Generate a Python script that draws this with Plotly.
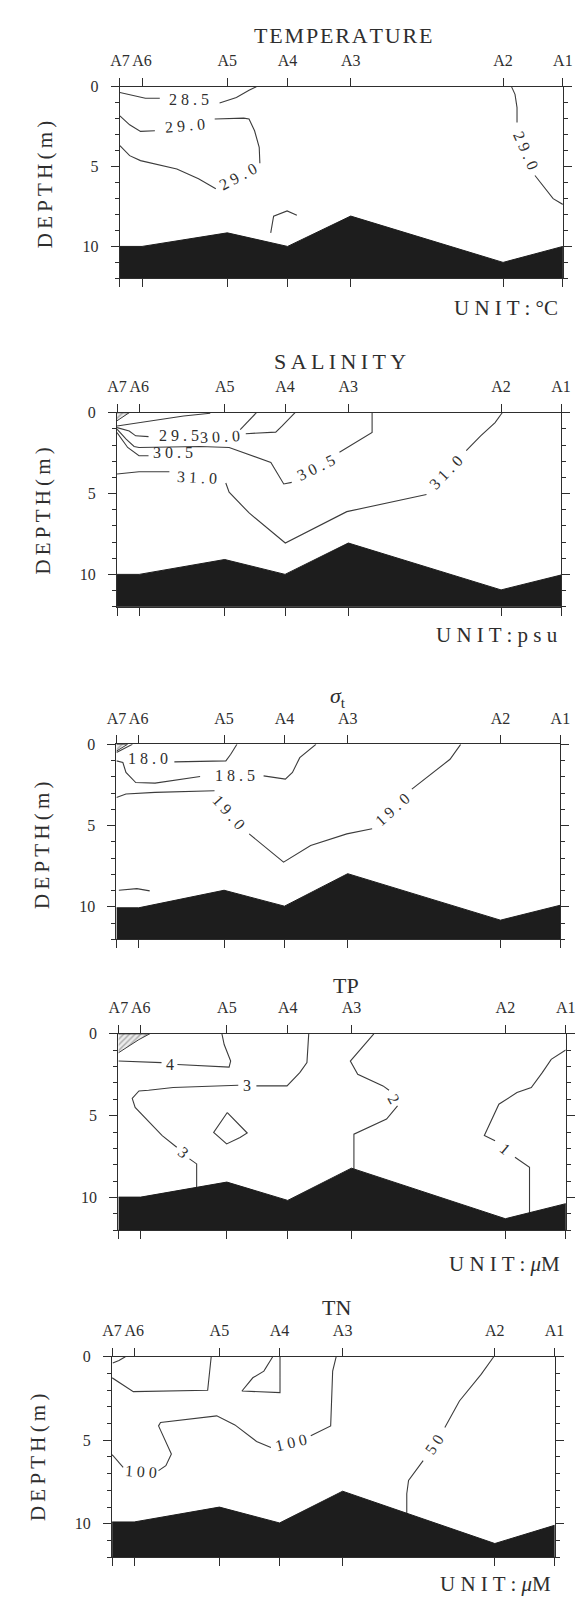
import plotly.graph_objects as go

# ---------------------------------------------------------------- data
STATIONS = ["A7", "A6", "A5", "A4", "A3", "A2", "A1"]
STATION_KM = [0.0, 1.0, 4.85, 7.57, 10.42, 17.3, 20.0]
DEPTH_TICKS = [0, 5, 10]
MAX_DEPTH = 12

# sea-bed depth (m) under each station, per section
BATHY_TEMP = [10.0, 10.0, 9.15, 10.0, 8.1, 11.0, 10.0]
BATHY_SAL = [10.0, 10.0, 9.08, 10.0, 8.06, 10.96, 10.04]
BATHY_SIG = [10.06, 10.06, 8.98, 9.96, 7.96, 10.82, 9.9]
BATHY_TP = [9.98, 9.98, 9.06, 10.18, 8.21, 11.3, 10.38]
BATHY_TN = [9.89, 9.89, 9.0, 9.95, 8.05, 11.18, 10.09]

# contour polylines: (distance km, depth m); None = gap for a label
TEMP_28_5 = [(0, 0.37), (0.6, 0.58), (1.15, 0.73), (1.8, 0.73), None,
             (4.5, 1.02), (5.26, 0.68), (5.83, 0.23), (6.16, 0.0)]
TEMP_29_0_A = [(0, 3.69), (0.44, 4.32), (0.93, 4.63), (2.57, 5.15), (3.55, 5.77),
               (4.33, 6.39), None, (6.32, 4.79), (6.29, 3.8), (6.08, 2.76),
               (5.83, 2.03), (5.59, 1.97), (4.28, 2.03), None, (1.58, 2.76),
               (0.93, 2.8), (0.44, 2.39), (0, 1.83)]
TEMP_29_0_B = [(17.68, 0.0), (17.84, 0.48), (17.93, 1.31), (17.93, 2.24), None,
               (18.74, 5.56), (19.15, 6.29), (19.56, 7.01), (20.0, 7.37)]
TEMP_FRAG = [(6.81, 9.15), (6.94, 8.11), (7.55, 7.78), (7.99, 8.05)]
TEMP_LABELS = [(3.14, 0.8, "28.5"), (2.92, 2.42, "29.0"),
               (5.34, 5.62, "29.0"), (18.33, 4.0, "29.0")]
TEMP_LABEL_ANGLES = [0, -5, -28, 66]

SAL_SURF = [(0, 0.82), (1.7, 0.45), (3.0, 0.2), (4.2, 0.03)]
SAL_29_5 = [(0, 0.92), (0.55, 1.13), (0.84, 1.43), (1.42, 1.48), None,
            (5.55, 1.05), (5.87, 0.61), (6.28, 0.0)]
SAL_30_0 = [(5.8, 1.3), (7.15, 1.2), (7.44, 0.82), (8.02, 0.0)]
SAL_30_5_A = [(0, 1.02), (0.41, 1.64), (0.77, 2.09), (0.99, 2.15), (3.74, 2.09),
              (5.05, 2.15), (6.93, 3.08), (7.51, 4.41), (7.87, 4.31), None,
              (10.02, 2.45), (11.49, 1.22), (11.49, 0.0)]
SAL_30_5_B = [(0, 1.23), (0.48, 2.15), (0.99, 2.66), (1.42, 2.66)]
SAL_31_0 = [(0, 3.79), (0.99, 3.65), (2.36, 3.65), None, (4.9, 4.35), (5.05, 4.92),
            (5.95, 6.2), (7.58, 8.06), (10.35, 6.12), (13.94, 5.06), None,
            (15.73, 2.35), (16.38, 1.43), (17.03, 0.61), (17.35, 0.0)]
SAL_CORNER = [(0, 0), (0.55, 0), (0, 0.5)]
SAL_LABELS = [(2.8, 1.43, "29.5"), (4.65, 1.5, "30.0"), (2.51, 2.46, "30.5"),
              (3.62, 4.0, "31.0"), (8.97, 3.37, "30.5"), (14.8, 3.7, "31.0")]
SAL_LABEL_ANGLES = [0, -3, 0, 3, -26, -46]

SIG_CORNER_LINE = [(0, 0.51), (0.43, 0.2), (0.72, 0.0)]
SIG_CORNER = [(0, 0), (0.5, 0), (0, 0.42)]
SIG_18_0 = [(2.61, 1.08), (4.93, 1.02), (5.15, 0.61), (5.43, 0.0)]
SIG_18_5 = [(0, 1.02), (0.29, 1.12), (0.43, 1.73), (0.87, 2.35), (1.74, 2.39),
            (3.77, 1.98), None, (6.63, 1.94), (7.61, 2.14), (7.93, 1.73),
            (8.26, 0.82), (8.99, 0.0)]
SIG_19_0 = [(0, 3.27), (0.43, 3.06), (1.74, 2.96), (4.42, 2.86), None,
            (5.98, 5.51), (7.53, 7.25), (8.75, 6.23), (10.38, 5.51), (11.52, 5.2),
            None, (13.31, 2.76), (15.03, 0.92), (15.51, 0.0)]
SIG_DEEP = [(0.11, 8.98), (0.92, 8.88), (1.5, 9.02)]
SIG_LABELS = [(1.41, 0.88, "18.0"), (5.32, 1.94, "18.5"),
              (5.08, 4.18, "19.0"), (12.42, 3.98, "19.0")]
SIG_LABEL_ANGLES = [0, 0, 48, -42]

TP_CORNER = [(0, 0), (1.4, 0), (0.92, 0.35), (0.49, 0.75), (0, 1.16)]
TP_4 = [(0, 1.66), (1.93, 1.76), None, (2.64, 1.87), (4.95, 2.03), (5.02, 1.66),
        (4.73, 0.65), (4.63, 0.0)]
TP_3 = [(8.51, 0.0), (8.43, 1.76), (8.11, 2.37), (7.54, 3.18), (6.17, 3.18), None,
        (5.36, 3.14), (2.45, 3.28), (1.35, 3.45), (0.92, 3.49), (0.62, 3.95),
        (0.75, 4.5), (1.96, 6.22), (2.61, 6.93), None, (3.18, 7.64), (3.5, 7.95),
        (3.5, 9.6)]
TP_3_ISLAND = [(4.87, 4.81), (5.76, 6.06), (5.44, 6.33), (4.84, 6.73),
               (4.26, 6.02), (4.47, 5.62), (4.87, 4.81)]
TP_2 = [(11.42, 0.0), (10.37, 1.66), (10.7, 2.47), (11.83, 3.18), (12.1, 3.45),
        None, (12.48, 4.4), (11.99, 5.21), (10.53, 6.13), (10.53, 8.4)]
TP_1 = [(20.0, 0.99), (19.35, 1.56), (18.95, 2.37), (18.46, 3.28), (17.82, 3.59),
        (17.01, 4.3), (16.36, 6.22), (16.84, 6.53), None, (17.73, 7.54),
        (18.38, 8.15), (18.38, 11.0)]
TP_LABELS = [(2.3, 1.9, "4"), (5.76, 3.18, "3"), (2.9, 7.28, "3"),
             (12.3, 3.95, "2"), (17.27, 7.02, "1")]
TP_LABEL_ANGLES = [0, 0, 40, 60, 40]

TN_CORNER = [(0.03, 0.37), (0.31, 0.23), (0.6, 0.0)]
TN_BOX_A5 = [(0, 1.26), (0.96, 2.09), (4.32, 2.01), (4.48, 0.0)]
TN_BOX_A4 = [(7.26, 0.0), (6.86, 0.86), (6.36, 1.26), (5.87, 2.05), (7.59, 2.15),
             (7.59, 0.0)]
TN_100 = [(10.13, 0.0), (9.97, 0.86), (9.88, 4.14), (8.98, 4.73), None,
          (7.18, 5.43), (6.53, 5.07), (5.55, 4.08), (4.73, 3.54), (2.19, 3.94),
          (2.1, 4.14), (2.68, 5.82), (2.43, 6.52), (2.1, 6.82), None,
          (0.5, 6.62), (0, 5.86)]
TN_50 = [(17.25, 0.0), (16.68, 1.06), (15.7, 2.65), (15.04, 4.24), None,
         (14.06, 6.22), (13.4, 7.41), (13.32, 8.2), (13.32, 9.6)]
TN_LABELS = [(8.1, 5.12, "100"), (1.3, 6.85, "100"), (14.55, 5.23, "50")]
TN_LABEL_ANGLES = [-13, 4, -56]

# ---------------------------------------------------------------- style
PAGE_W, PAGE_H = 588, 1608
OFF = 8                      # default <body> margin of the written page
W, H = PAGE_W - 2 * OFF, PAGE_H - 2 * OFF
SERIF = "Liberation Serif"
INK = "#2e2e2e"
LINE_C = "#3c3c3c"
SEABED = "#1d1d1d"
HAIR = "\u200a"
THIN = "\u2009"


def spaced(s, sep):
    return sep.join(s)


def px_x(v):
    return (v - OFF) / W


def px_y(v):
    return 1 - (v - OFF) / H


PANELS = [
    dict(lines=[TEMP_28_5, TEMP_29_0_A, TEMP_29_0_B, TEMP_FRAG], hatch=[],
         labels=TEMP_LABELS, angles=TEMP_LABEL_ANGLES, bathy=BATHY_TEMP,
         geom=(113.6, 572.6, 79, 271.7),
         title=spaced("TEMPERATURE", HAIR), title_xy=(344.5, 27.5),
         unit="U N I T : °C", unit_xy=(570, 301.5), ylab_xy=(36, 178)),
    dict(lines=[SAL_SURF, SAL_29_5, SAL_30_0, SAL_30_5_A, SAL_30_5_B, SAL_31_0],
         hatch=[SAL_CORNER],
         labels=SAL_LABELS, angles=SAL_LABEL_ANGLES, bathy=BATHY_SAL,
         geom=(110.6, 570.7, 406.7, 601.7),
         title=spaced("SALINITY", THIN), title_xy=(342, 355),
         unit="U N I T : p s u", unit_xy=(570, 630), ylab_xy=(34, 506)),
    dict(lines=[SIG_CORNER_LINE, SIG_18_0, SIG_18_5, SIG_19_0, SIG_DEEP],
         hatch=[SIG_CORNER],
         labels=SIG_LABELS, angles=SIG_LABEL_ANGLES, bathy=BATHY_SIG,
         geom=(110, 570, 740, 936),
         title="<i>σ</i><sub>t</sub>", title_xy=(340, 692),
         unit=None, unit_xy=None, ylab_xy=(33, 842)),
    dict(lines=[TP_4, TP_3, TP_3_ISLAND, TP_2, TP_1], hatch=[TP_CORNER],
         labels=TP_LABELS, angles=TP_LABEL_ANGLES, bathy=BATHY_TP,
         geom=(112, 575.6, 1031, 1228.3),
         title="TP", title_xy=(348, 982),
         unit="U N I T : <i>μ</i>M", unit_xy=(572, 1262), ylab_xy=None),
    dict(lines=[TN_CORNER, TN_BOX_A5, TN_BOX_A4, TN_100, TN_50], hatch=[],
         labels=TN_LABELS, angles=TN_LABEL_ANGLES, bathy=BATHY_TN,
         geom=(105.5, 564, 1355.5, 1557),
         title="TN", title_xy=(338, 1306),
         unit="U N I T : <i>μ</i>M", unit_xy=(562, 1584), ylab_xy=(28, 1457)),
]

fig = go.Figure()
layout = dict(width=W, height=H, autosize=False,
              margin=dict(l=0, r=0, t=0, b=0),
              paper_bgcolor="white", plot_bgcolor="white", showlegend=False)
annotations = []


def xy(pts):
    return ([p[0] if p is not None else None for p in pts],
            [p[1] if p is not None else None for p in pts])


for i, p in enumerate(PANELS, start=1):
    sfx = "" if i == 1 else str(i)
    xa, ya = "x" + sfx, "y" + sfx
    l, r, t, b = p["geom"]

    for poly in p["hatch"]:
        px, py = xy(poly)
        fig.add_trace(go.Scatter(
            x=px, y=py, mode="lines", fill="toself", fillcolor="#e2e2e2",
            fillpattern=dict(shape="/", fgcolor="#666666", bgcolor="#ececec",
                             size=4, solidity=0.35),
            line=dict(color=LINE_C, width=1), xaxis=xa, yaxis=ya,
            hoverinfo="skip"))

    for pts in p["lines"]:
        px, py = xy(pts)
        fig.add_trace(go.Scatter(
            x=px, y=py, mode="lines", connectgaps=False,
            line=dict(color=LINE_C, width=1.1), xaxis=xa, yaxis=ya,
            hoverinfo="skip"))

    bx = STATION_KM + [STATION_KM[-1], STATION_KM[0]]
    by = p["bathy"] + [MAX_DEPTH, MAX_DEPTH]
    fig.add_trace(go.Scatter(
        x=bx, y=by, mode="lines", fill="toself", fillcolor=SEABED,
        line=dict(color=SEABED, width=1), xaxis=xa, yaxis=ya, hoverinfo="skip"))

    for (lx, ly, txt), ang in zip(p["labels"], p["angles"]):
        annotations.append(dict(
            x=lx, y=ly, xref=xa, yref=ya, text=" ".join(txt), textangle=ang,
            showarrow=False, xanchor="center", yanchor="middle",
            font=dict(family=SERIF, size=16, color=INK)))

    layout["xaxis" + sfx] = dict(
        domain=[px_x(l), px_x(r)], range=[STATION_KM[0], STATION_KM[-1]],
        anchor=ya, side="top", tickmode="array", tickvals=STATION_KM,
        ticktext=STATIONS, tickangle=0, ticks="outside", ticklen=8,
        tickwidth=1.1, tickcolor=INK, ticklabelstandoff=5,
        tickfont=dict(family=SERIF, size=16, color=INK),
        showline=True, linecolor=INK, linewidth=1.2, mirror="ticks",
        showgrid=False, zeroline=False, fixedrange=True)
    layout["yaxis" + sfx] = dict(
        domain=[px_y(b), px_y(t)], range=[MAX_DEPTH, 0], anchor=xa,
        tickmode="array", tickvals=DEPTH_TICKS, ticks="outside", ticklen=8,
        tickwidth=1.1, tickcolor=INK, ticklabelstandoff=9,
        tickfont=dict(family=SERIF, size=16, color=INK),
        minor=dict(tickmode="linear", tick0=0, dtick=1, ticks="outside",
                   ticklen=4, tickwidth=1, tickcolor=INK),
        showline=True, linecolor=INK, linewidth=1.2, mirror="ticks",
        showgrid=False, zeroline=False, fixedrange=True)

    tx, ty = p["title_xy"]
    annotations.append(dict(
        x=px_x(tx), y=px_y(ty), xref="paper", yref="paper", text=p["title"],
        showarrow=False, xanchor="center", yanchor="middle",
        font=dict(family=SERIF, size=22, color=INK)))
    if p["unit"]:
        ux, uy = p["unit_xy"]
        annotations.append(dict(
            x=px_x(ux), y=px_y(uy), xref="paper", yref="paper", text=p["unit"],
            showarrow=False, xanchor="right", yanchor="middle",
            font=dict(family=SERIF, size=21, color=INK)))
    if p["ylab_xy"]:
        yx, yy = p["ylab_xy"]
        annotations.append(dict(
            x=px_x(yx), y=px_y(yy), xref="paper", yref="paper",
            text=spaced("DEPTH(m)", THIN), textangle=-90,
            showarrow=False, xanchor="center", yanchor="middle",
            font=dict(family=SERIF, size=21, color=INK)))

layout["annotations"] = annotations
fig.update_layout(**layout)
fig.write_html("out.html")
